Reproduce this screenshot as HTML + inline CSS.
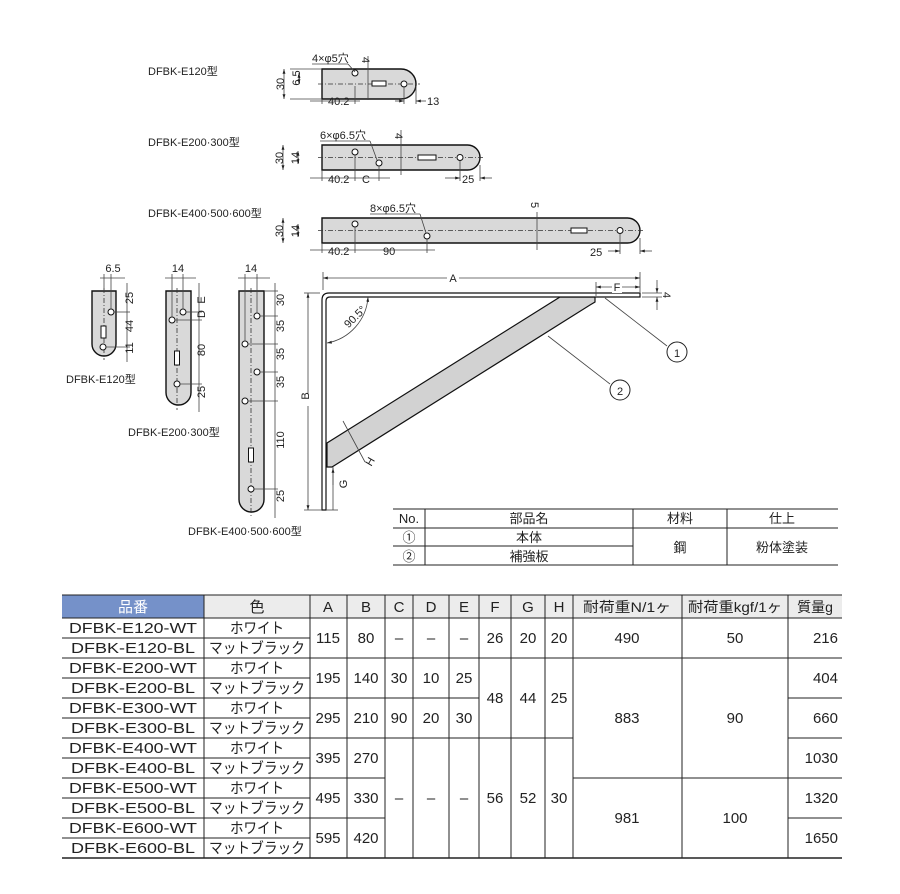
<!DOCTYPE html>
<html><head><meta charset="utf-8"><style>
html,body{margin:0;padding:0;background:#fff}
svg{display:block}
text{font-family:"Liberation Sans","Noto Sans CJK JP",sans-serif;fill:#222}
.t{font-size:14px}
.tb{font-size:15px}
.s{font-size:11px}
.l{stroke:#222;stroke-width:1;fill:none}
.th{stroke:#444;stroke-width:0.8;fill:none}
.p{fill:#d9d9d9;stroke:#111;stroke-width:1.4}
.d{stroke:#333;stroke-width:0.8;fill:none;stroke-dasharray:5,2,1,2}
.h{fill:#fff;stroke:#111;stroke-width:1}
</style></head><body>
<svg width="900" height="894" viewBox="0 0 900 894" xmlns="http://www.w3.org/2000/svg">
<defs>
<marker id="a" viewBox="0 0 10 10" refX="10" refY="5" markerWidth="6" markerHeight="6" orient="auto-start-reverse"><path d="M0,2 L10,5 L0,8 Z" fill="#222"/></marker>
</defs>

<!-- ===== Top views ===== -->
<text x="148" y="75" class="s">DFBK-E120型</text>
<path class="p" d="M322,69 H401 A15,15 0 0 1 401,99 H322 Z"/>
<line class="d" x1="318" y1="84" x2="420" y2="84"/>
<rect x="372" y="81" width="14" height="5" fill="#fff" stroke="#111"/>
<circle class="h" cx="355" cy="73" r="3"/><circle class="h" cx="404" cy="84" r="3"/>
<text x="312" y="62" class="s">4×φ5穴</text>
<line class="th" x1="312" y1="64" x2="348" y2="64"/><line class="th" x1="348" y1="64" x2="355" y2="72"/>
<line class="th" x1="290" y1="69" x2="322" y2="69"/><line class="th" x1="290" y1="99" x2="322" y2="99"/>
<line class="th" x1="284" y1="69" x2="284" y2="99" marker-start="url(#a)" marker-end="url(#a)"/>
<text x="280" y="88" class="s" transform="rotate(-90 280 84)" text-anchor="middle">30</text>
<line class="th" x1="299" y1="73" x2="299" y2="84" marker-start="url(#a)" marker-end="url(#a)"/>
<text x="296" y="82" class="s" transform="rotate(-90 296 78)" text-anchor="middle">6.5</text>
<line class="th" x1="368" y1="56" x2="368" y2="100"/>
<text x="366" y="64" class="s" transform="rotate(90 366 60)" text-anchor="middle">4</text>
<line class="th" x1="310" y1="101" x2="360" y2="101"/><line class="th" x1="355" y1="86" x2="355" y2="104"/><line class="th" x1="322" y1="99" x2="322" y2="104"/>
<text x="328" y="105" class="s">40.2</text>
<line class="th" x1="395" y1="101" x2="404" y2="101" marker-end="url(#a)"/><line class="th" x1="426" y1="101" x2="416" y2="101" marker-end="url(#a)"/>
<line class="th" x1="404" y1="86" x2="404" y2="104"/><line class="th" x1="416" y1="86" x2="416" y2="104"/>
<text x="427" y="105" class="s">13</text>

<text x="148" y="146" class="s">DFBK-E200·300型</text>
<path class="p" d="M322,145 H467.5 A12.5,12.5 0 0 1 467.5,170 H322 Z"/>
<line class="d" x1="318" y1="157.5" x2="485" y2="157.5"/>
<rect x="418" y="155" width="18" height="5" fill="#fff" stroke="#111"/>
<circle class="h" cx="355" cy="152" r="3"/><circle class="h" cx="379" cy="163" r="3"/><circle class="h" cx="460" cy="157.5" r="3"/>
<text x="320" y="139" class="s">6×φ6.5穴</text>
<line class="th" x1="320" y1="141" x2="370" y2="141"/><line class="th" x1="370" y1="141" x2="377" y2="160"/>
<line class="th" x1="283" y1="145" x2="283" y2="170" marker-start="url(#a)" marker-end="url(#a)"/>
<text x="279" y="162" class="s" transform="rotate(-90 279 158)" text-anchor="middle">30</text>
<line class="th" x1="298" y1="151" x2="298" y2="164" marker-start="url(#a)" marker-end="url(#a)"/>
<text x="295" y="162" class="s" transform="rotate(-90 295 158)" text-anchor="middle">14</text>
<line class="th" x1="401" y1="130" x2="401" y2="175"/>
<text x="399" y="140" class="s" transform="rotate(90 399 136)" text-anchor="middle">4</text>
<line class="th" x1="310" y1="178" x2="390" y2="178"/><line class="th" x1="355" y1="155" x2="355" y2="181"/><line class="th" x1="379" y1="166" x2="379" y2="181"/><line class="th" x1="322" y1="170" x2="322" y2="181"/>
<text x="328" y="183" class="s">40.2</text><text x="362" y="183" class="s">C</text>
<line class="th" x1="445" y1="178" x2="460" y2="178" marker-end="url(#a)"/><line class="th" x1="492" y1="178" x2="480" y2="178" marker-end="url(#a)"/>
<line class="th" x1="460" y1="161" x2="460" y2="181"/><line class="th" x1="480" y1="165" x2="480" y2="181"/>
<text x="462" y="183" class="s">25</text>

<text x="148" y="217" class="s">DFBK-E400·500·600型</text>
<path class="p" d="M322,218 H627.5 A12.5,12.5 0 0 1 627.5,243 H322 Z"/>
<line class="d" x1="318" y1="230.5" x2="645" y2="230.5"/>
<rect x="571" y="228" width="16" height="5" fill="#fff" stroke="#111"/>
<circle class="h" cx="355" cy="224" r="3"/><circle class="h" cx="427" cy="236" r="3"/><circle class="h" cx="620" cy="230.5" r="3"/>
<text x="370" y="212" class="s">8×φ6.5穴</text>
<line class="th" x1="370" y1="214" x2="420" y2="214"/><line class="th" x1="420" y1="214" x2="426" y2="233"/>
<line class="th" x1="283" y1="218" x2="283" y2="243" marker-start="url(#a)" marker-end="url(#a)"/>
<text x="279" y="235" class="s" transform="rotate(-90 279 231)" text-anchor="middle">30</text>
<line class="th" x1="298" y1="224" x2="298" y2="237" marker-start="url(#a)" marker-end="url(#a)"/>
<text x="295" y="235" class="s" transform="rotate(-90 295 231)" text-anchor="middle">14</text>
<line class="th" x1="537" y1="212" x2="537" y2="250"/>
<text x="535" y="209" class="s" transform="rotate(90 535 205)" text-anchor="middle">5</text>
<line class="th" x1="310" y1="250" x2="435" y2="250"/><line class="th" x1="355" y1="227" x2="355" y2="253"/><line class="th" x1="427" y1="239" x2="427" y2="253"/><line class="th" x1="322" y1="243" x2="322" y2="253"/>
<text x="328" y="255" class="s">40.2</text><text x="383" y="255" class="s">90</text>
<line class="th" x1="608" y1="251" x2="620" y2="251" marker-end="url(#a)"/><line class="th" x1="652" y1="251" x2="640" y2="251" marker-end="url(#a)"/>
<line class="th" x1="620" y1="234" x2="620" y2="254"/><line class="th" x1="640" y1="238" x2="640" y2="254"/>
<text x="590" y="256" class="s">25</text>

<!-- ===== Side views ===== -->
<path class="p" d="M92,291 H116 V344 A12,12 0 0 1 92,344 Z"/>
<line class="d" x1="104" y1="288" x2="104" y2="360"/>
<rect x="101" y="326" width="5" height="12" fill="#fff" stroke="#111"/>
<circle class="h" cx="111" cy="312" r="3"/><circle class="h" cx="103" cy="347" r="3"/>
<line class="th" x1="100" y1="278" x2="125" y2="278"/><line class="th" x1="104" y1="274" x2="104" y2="291"/><line class="th" x1="111" y1="274" x2="111" y2="309"/>
<text x="113" y="272" class="s" text-anchor="middle">6.5</text>
<line class="th" x1="127" y1="283" x2="127" y2="362"/>
<line class="th" x1="114" y1="312" x2="130" y2="312"/><line class="th" x1="106" y1="347" x2="130" y2="347"/>
<text x="137" y="302" class="s" transform="rotate(-90 133 302)" text-anchor="middle">25</text>
<text x="137" y="330" class="s" transform="rotate(-90 133 330)" text-anchor="middle">44</text>
<text x="137" y="352" class="s" transform="rotate(-90 133 352)" text-anchor="middle">11</text>
<text x="66" y="383" class="s">DFBK-E120型</text>

<path class="p" d="M166,291 H191 V392.5 A12.5,12.5 0 0 1 166,392.5 Z"/>
<line class="d" x1="177" y1="288" x2="177" y2="410"/>
<rect x="174.5" y="351" width="5" height="14" fill="#fff" stroke="#111"/>
<circle class="h" cx="183" cy="312" r="3"/><circle class="h" cx="172" cy="320" r="3"/><circle class="h" cx="177" cy="384" r="3"/>
<line class="th" x1="165" y1="278" x2="196" y2="278"/><line class="th" x1="172" y1="274" x2="172" y2="317"/><line class="th" x1="183" y1="274" x2="183" y2="309"/>
<text x="178" y="272" class="s" text-anchor="middle">14</text>
<line class="th" x1="199" y1="283" x2="199" y2="412"/>
<line class="th" x1="186" y1="312" x2="202" y2="312"/><line class="th" x1="175" y1="320" x2="202" y2="320"/><line class="th" x1="180" y1="384" x2="202" y2="384"/>
<text x="209" y="304" class="s" transform="rotate(-90 205 304)" text-anchor="middle">E</text>
<text x="209" y="318" class="s" transform="rotate(-90 205 318)" text-anchor="middle">D</text>
<text x="209" y="354" class="s" transform="rotate(-90 205 354)" text-anchor="middle">80</text>
<text x="209" y="396" class="s" transform="rotate(-90 205 396)" text-anchor="middle">25</text>
<text x="128" y="436" class="s">DFBK-E200·300型</text>

<path class="p" d="M239,291 H264 V499.5 A12.5,12.5 0 0 1 239,499.5 Z"/>
<line class="d" x1="251" y1="288" x2="251" y2="516"/>
<rect x="248.5" y="448" width="5" height="14" fill="#fff" stroke="#111"/>
<circle class="h" cx="257" cy="316" r="3"/><circle class="h" cx="245" cy="344" r="3"/><circle class="h" cx="257" cy="372" r="3"/><circle class="h" cx="245" cy="401" r="3"/><circle class="h" cx="251" cy="489" r="3"/>
<line class="th" x1="238" y1="278" x2="270" y2="278"/><line class="th" x1="245" y1="274" x2="245" y2="341"/><line class="th" x1="257" y1="274" x2="257" y2="313"/>
<text x="251" y="272" class="s" text-anchor="middle">14</text>
<line class="th" x1="275" y1="283" x2="275" y2="518"/>
<line class="th" x1="260" y1="316" x2="278" y2="316"/><line class="th" x1="248" y1="344" x2="278" y2="344"/><line class="th" x1="260" y1="372" x2="278" y2="372"/><line class="th" x1="248" y1="401" x2="278" y2="401"/><line class="th" x1="254" y1="489" x2="278" y2="489"/><line class="th" x1="264" y1="291" x2="278" y2="291"/>
<text x="288" y="304" class="s" transform="rotate(-90 284 304)" text-anchor="middle">30</text>
<text x="288" y="330" class="s" transform="rotate(-90 284 330)" text-anchor="middle">35</text>
<text x="288" y="358" class="s" transform="rotate(-90 284 358)" text-anchor="middle">35</text>
<text x="288" y="386" class="s" transform="rotate(-90 284 386)" text-anchor="middle">35</text>
<text x="288" y="444" class="s" transform="rotate(-90 284 444)" text-anchor="middle">110</text>
<text x="288" y="500" class="s" transform="rotate(-90 284 500)" text-anchor="middle">25</text>
<text x="188" y="535" class="s">DFBK-E400·500·600型</text>

<!-- ===== Bracket ===== -->
<polygon points="560,297 595,297 595,302 590,305 332,467 327,467 327,443" fill="#d2d2d2" stroke="#111" stroke-width="1.2"/>
<path d="M322,510 V300 Q322,293 329,293 H640 V297 H330 Q326,297 326,301 V510 Z" fill="#fff" stroke="#111" stroke-width="1.2"/>
<line class="th" x1="323" y1="278" x2="640" y2="278" marker-start="url(#a)" marker-end="url(#a)"/>
<line class="th" x1="323" y1="272" x2="323" y2="290"/><line class="th" x1="640" y1="272" x2="640" y2="292"/>
<rect x="447" y="271" width="12" height="12" fill="#fff"/><text x="453" y="282" class="s" text-anchor="middle">A</text>
<line class="th" x1="596" y1="287" x2="640" y2="287" marker-start="url(#a)" marker-end="url(#a)"/>
<line class="th" x1="596" y1="282" x2="596" y2="296"/>
<rect x="612" y="281" width="10" height="12" fill="#fff"/><text x="617" y="291" class="s" text-anchor="middle">F</text>
<line class="th" x1="642" y1="293" x2="662" y2="293"/><line class="th" x1="642" y1="297" x2="662" y2="297"/>
<line class="th" x1="657" y1="280" x2="657" y2="293" marker-end="url(#a)"/><line class="th" x1="657" y1="310" x2="657" y2="297" marker-end="url(#a)"/>
<text x="666" y="298" class="s" transform="rotate(90 666 295)" text-anchor="middle">4</text>
<line class="th" x1="308" y1="293" x2="308" y2="510" marker-start="url(#a)" marker-end="url(#a)"/>
<line class="th" x1="304" y1="510" x2="322" y2="510"/><line class="th" x1="304" y1="293" x2="320" y2="293"/>
<rect x="302" y="394" width="12" height="12" fill="#fff"/><text x="313" y="400" class="s" transform="rotate(-90 309 400)" text-anchor="middle">B</text>
<path class="th" d="M327,343 A50,50 0 0 0 368,297" marker-start="url(#a)" marker-end="url(#a)"/>
<text x="345" y="330" class="s" transform="rotate(-45 345 325)">90.5°</text>
<line class="th" x1="333" y1="467" x2="333" y2="510"/>
<line class="th" x1="333" y1="485" x2="333" y2="468" marker-end="url(#a)"/>
<line class="th" x1="326" y1="510" x2="338" y2="510"/>
<text x="347" y="492" class="s" transform="rotate(-90 343 488)" text-anchor="middle">G</text>
<line class="th" x1="343" y1="421" x2="365" y2="462"/>
<text x="373" y="467" class="s" transform="rotate(-60 370 465)" text-anchor="middle">H</text>
<line class="th" x1="605" y1="298" x2="667" y2="346"/>
<circle cx="677" cy="352" r="10" fill="#fff" stroke="#222"/><text x="677" y="357" class="s" text-anchor="middle">1</text>
<line class="th" x1="548" y1="336" x2="610" y2="384"/>
<circle cx="620" cy="390" r="10" fill="#fff" stroke="#222"/><text x="620" y="395" class="s" text-anchor="middle">2</text>

<!-- ===== Parts table ===== -->
<g class="t" style="font-size:13px">
<line class="l" x1="393" y1="509" x2="838" y2="509" stroke-width="1.4"/>
<line class="l" x1="393" y1="528" x2="838" y2="528"/>
<line class="l" x1="393" y1="546" x2="633" y2="546"/>
<line class="l" x1="393" y1="565" x2="838" y2="565" stroke-width="1.4"/>
<line class="l" x1="425" y1="509" x2="425" y2="565"/><line class="l" x1="633" y1="509" x2="633" y2="565"/><line class="l" x1="727" y1="509" x2="727" y2="565"/>
<text x="409" y="523" text-anchor="middle">No.</text><text x="529" y="523" text-anchor="middle">部品名</text><text x="680" y="523" text-anchor="middle">材料</text><text x="782" y="523" text-anchor="middle">仕上</text>
<text x="409" y="542" text-anchor="middle">①</text><text x="529" y="542" text-anchor="middle">本体</text>
<text x="409" y="561" text-anchor="middle">②</text><text x="529" y="561" text-anchor="middle">補強板</text>
<text x="680" y="552" text-anchor="middle">鋼</text><text x="782" y="552" text-anchor="middle">粉体塗装</text>
</g>

<!-- ===== Spec table ===== -->
<rect x="62" y="595" width="780" height="23" fill="#ececec"/>
<rect x="62" y="595" width="142" height="23" fill="#7591c9"/>
<g class="l" stroke-width="1">
<line x1="62" y1="595" x2="842" y2="595"/>
<line x1="62" y1="618" x2="842" y2="618"/>
<line x1="62" y1="858" x2="842" y2="858" stroke-width="1.4"/>
<path d="M62,638H310M62,658H310M62,678H310M62,698H310M62,718H310M62,738H310M62,758H310M62,778H310M62,798H310M62,818H310M62,838H310"/>
<path d="M310,658H385M310,698H385M310,738H385M310,778H385M310,818H385"/>
<path d="M385,658H479M385,698H479M385,738H479"/>
<path d="M479,658H573M479,738H573"/>
<path d="M573,658H788M573,778H788"/>
<path d="M788,658H842M788,698H842M788,738H842M788,778H842M788,818H842"/>
<path d="M204,595V858M310,595V858M347,595V858M385,595V858M413,595V858M449,595V858M479,595V858M511,595V858M545,595V858M573,595V858M682,595V858M788,595V858"/>
</g>
<g class="tb" text-anchor="middle">
<text x="133" y="612" style="fill:#fff">品番</text>
<text x="257" y="612">色</text><text x="328" y="612">A</text><text x="366" y="612">B</text><text x="399" y="612">C</text><text x="431" y="612">D</text><text x="464" y="612">E</text><text x="495" y="612">F</text><text x="528" y="612">G</text><text x="559" y="612">H</text>
<text x="627" y="612" style="font-size:14px" textLength="88" lengthAdjust="spacingAndGlyphs">耐荷重N/1ヶ</text><text x="735" y="612" style="font-size:14px" textLength="94" lengthAdjust="spacingAndGlyphs">耐荷重kgf/1ヶ</text><text x="815" y="612" style="font-size:14px">質量g</text>
</g>
<g class="tb" text-anchor="middle">
<text x="133" y="633" textLength="128" lengthAdjust="spacingAndGlyphs">DFBK-E120-WT</text><text x="133" y="653" textLength="124" lengthAdjust="spacingAndGlyphs">DFBK-E120-BL</text>
<text x="133" y="673" textLength="128" lengthAdjust="spacingAndGlyphs">DFBK-E200-WT</text><text x="133" y="693" textLength="124" lengthAdjust="spacingAndGlyphs">DFBK-E200-BL</text>
<text x="133" y="713" textLength="128" lengthAdjust="spacingAndGlyphs">DFBK-E300-WT</text><text x="133" y="733" textLength="124" lengthAdjust="spacingAndGlyphs">DFBK-E300-BL</text>
<text x="133" y="753" textLength="128" lengthAdjust="spacingAndGlyphs">DFBK-E400-WT</text><text x="133" y="773" textLength="124" lengthAdjust="spacingAndGlyphs">DFBK-E400-BL</text>
<text x="133" y="793" textLength="128" lengthAdjust="spacingAndGlyphs">DFBK-E500-WT</text><text x="133" y="813" textLength="124" lengthAdjust="spacingAndGlyphs">DFBK-E500-BL</text>
<text x="133" y="833" textLength="128" lengthAdjust="spacingAndGlyphs">DFBK-E600-WT</text><text x="133" y="853" textLength="124" lengthAdjust="spacingAndGlyphs">DFBK-E600-BL</text>
<text x="257" y="633" textLength="54" lengthAdjust="spacingAndGlyphs">ホワイト</text><text x="257" y="653" textLength="96" lengthAdjust="spacingAndGlyphs">マットブラック</text>
<text x="257" y="673" textLength="54" lengthAdjust="spacingAndGlyphs">ホワイト</text><text x="257" y="693" textLength="96" lengthAdjust="spacingAndGlyphs">マットブラック</text>
<text x="257" y="713" textLength="54" lengthAdjust="spacingAndGlyphs">ホワイト</text><text x="257" y="733" textLength="96" lengthAdjust="spacingAndGlyphs">マットブラック</text>
<text x="257" y="753" textLength="54" lengthAdjust="spacingAndGlyphs">ホワイト</text><text x="257" y="773" textLength="96" lengthAdjust="spacingAndGlyphs">マットブラック</text>
<text x="257" y="793" textLength="54" lengthAdjust="spacingAndGlyphs">ホワイト</text><text x="257" y="813" textLength="96" lengthAdjust="spacingAndGlyphs">マットブラック</text>
<text x="257" y="833" textLength="54" lengthAdjust="spacingAndGlyphs">ホワイト</text><text x="257" y="853" textLength="96" lengthAdjust="spacingAndGlyphs">マットブラック</text>
<text x="328" y="643">115</text><text x="366" y="643">80</text>
<text x="328" y="683">195</text><text x="366" y="683">140</text>
<text x="328" y="723">295</text><text x="366" y="723">210</text>
<text x="328" y="763">395</text><text x="366" y="763">270</text>
<text x="328" y="803">495</text><text x="366" y="803">330</text>
<text x="328" y="843">595</text><text x="366" y="843">420</text>
<text x="399" y="643">–</text><text x="431" y="643">–</text><text x="464" y="643">–</text>
<text x="399" y="683">30</text><text x="431" y="683">10</text><text x="464" y="683">25</text>
<text x="399" y="723">90</text><text x="431" y="723">20</text><text x="464" y="723">30</text>
<text x="399" y="803">–</text><text x="431" y="803">–</text><text x="464" y="803">–</text>
<text x="495" y="643">26</text><text x="528" y="643">20</text><text x="559" y="643">20</text>
<text x="495" y="703">48</text><text x="528" y="703">44</text><text x="559" y="703">25</text>
<text x="495" y="803">56</text><text x="528" y="803">52</text><text x="559" y="803">30</text>
<text x="627" y="643">490</text><text x="735" y="643">50</text>
<text x="627" y="723">883</text><text x="735" y="723">90</text>
<text x="627" y="823">981</text><text x="735" y="823">100</text>
</g>
<g class="tb" text-anchor="end">
<text x="838" y="643">216</text><text x="838" y="683">404</text><text x="838" y="723">660</text>
<text x="838" y="763">1030</text><text x="838" y="803">1320</text><text x="838" y="843">1650</text>
</g>
</svg>
</body></html>
